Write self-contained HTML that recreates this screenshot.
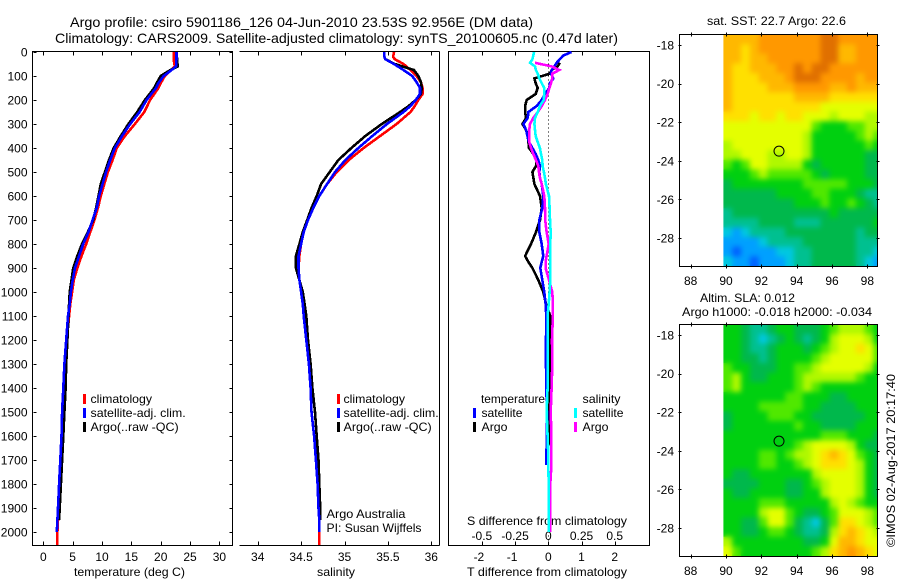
<!DOCTYPE html>
<html lang="en">
<head>
<meta charset="utf-8">
<title>Argo profile chart</title>
<style>
html,body{margin:0;padding:0;background:#fff;}
#chart{display:block;width:900px;height:580px;}
text{font-family:"Liberation Sans",Arial,sans-serif;font-size:12px;fill:#000;}
.title{font-size:14px;}
</style>
</head>
<body>
<svg id="chart" xmlns="http://www.w3.org/2000/svg" width="900" height="580" viewBox="0 0 900 580">
  <defs>
    <filter id="soften" x="-5%" y="-5%" width="110%" height="110%" color-interpolation-filters="sRGB">
      <feGaussianBlur stdDeviation="2.6"/>
    </filter>
    <clipPath id="clip-map-a"><rect x="680" y="35" width="197" height="231"/></clipPath>
    <clipPath id="clip-map-b"><rect x="680" y="325" width="197" height="231"/></clipPath>
  </defs>
  <rect x="0" y="0" width="900" height="580" fill="#fff"/>
  <text class="title" x="70" y="27" textLength="463" lengthAdjust="spacingAndGlyphs">Argo profile: csiro 5901186_126 04-Jun-2010 23.53S 92.956E (DM data)</text>
  <text class="title" x="55" y="43" textLength="563" lengthAdjust="spacingAndGlyphs">Climatology: CARS2009. Satellite-adjusted climatology: synTS_20100605.nc (0.47d later)</text>
  <text x="74" y="576" textLength="111" lengthAdjust="spacingAndGlyphs">temperature (deg C)</text>
  <text x="317" y="576" textLength="38" lengthAdjust="spacingAndGlyphs">salinity</text>
  <text x="467" y="525" textLength="160" lengthAdjust="spacingAndGlyphs">S difference from climatology</text>
  <text x="467" y="576" textLength="160" lengthAdjust="spacingAndGlyphs">T difference from climatology</text>
  <text x="326.5" y="518" textLength="79" lengthAdjust="spacingAndGlyphs">Argo Australia</text>
  <text x="326.5" y="532" textLength="95" lengthAdjust="spacingAndGlyphs">PI: Susan Wijffels</text>
  <text x="707" y="25" textLength="139" lengthAdjust="spacingAndGlyphs">sat. SST: 22.7 Argo: 22.6</text>
  <text x="700" y="302" textLength="95" lengthAdjust="spacingAndGlyphs">Altim. SLA: 0.012</text>
  <text x="682" y="316" textLength="190" lengthAdjust="spacingAndGlyphs">Argo h1000: -0.018 h2000: -0.034</text>
  <text transform="translate(895,547) rotate(-90)" textLength="173" lengthAdjust="spacingAndGlyphs">©IMOS 02-Aug-2017 20:17:40</text>
  <g id="layer"></g>
</svg>
<script>
// ---- profile data ----
const depthTicks = [0,100,200,300,400,500,600,700,800,900,1000,1100,1200,1300,1400,1500,1600,1700,1800,1900,2000];
const tempTicks = [0,5,10,15,20,25,30];
const salTicks = [34,34.5,35,35.5,36];
const salTickLabels = ['34','34.5','35','35.5','36'];
const diffTTicks = [-2,-1,0,1,2];
const diffSTicks = [-0.5,-0.25,0,0.25,0.5];
const diffSTickLabels = ['-0.5','-0.25','0','0.25','0.5'];
const lonTicks = [88,90,92,94,96,98];
const latTicks = [-18,-20,-22,-24,-26,-28];

const tempDepths = [0,30,60,80,100,130,150,200,250,300,350,400,450,500,550,600,650,700,750,800,850,900,950,1000,1050,1100,1200,1300,1400,1500,1600,1700,1800,1900,1950,2000,2054];
const tempClim = [22.2,22.2,22.4,21.5,20.7,20,19.6,18.2,17.2,15.6,13.9,12.5,11.8,11,10.4,9.8,9.3,8.7,8,7.3,6.5,5.8,5.2,4.9,4.6,4.4,4,3.7,3.5,3.3,3.1,3,2.8,2.6,2.5,2.4,2.4];
const tempSat = [22.7,22.7,22.6,21.6,20.5,19.6,19.2,17.6,16.4,14.8,13.4,12.2,11.4,10.7,10.1,9.5,9.1,8.4,7.7,6.8,6.1,5.4,5,4.7,4.5,4.2,3.9,3.6,3.4,3.2,3.1,2.9,2.7,2.5,2.4,2.3,null];
const tempArgo = [22.7,22.8,22.9,21.3,20,19.3,18.9,17.3,16,14.5,13.2,12,11.2,10.5,9.8,9.4,9,8.5,7.6,6.6,5.8,5.1,4.8,4.5,4.4,4.3,4.1,3.9,3.8,3.6,3.4,3.2,3,2.8,2.7,null,null];

const salDepths = [0,20,30,50,75,100,125,150,175,200,225,250,300,350,400,450,500,550,600,650,700,750,800,850,900,950,1000,1050,1100,1200,1300,1400,1500,1600,1700,1800,1900,1950,2000,2054];
const salClim = [35.57,35.56,35.58,35.68,35.76,35.83,35.88,35.9,35.9,35.85,35.81,35.76,35.6,35.41,35.22,35.05,34.91,34.8,34.71,34.64,34.58,34.53,34.5,34.48,34.47,34.48,34.5,34.52,34.53,34.56,34.59,34.61,34.62,34.65,34.67,34.69,34.7,34.71,34.71,34.71];
const salSat = [35.46,35.46,35.47,35.57,35.68,35.78,35.83,35.87,35.87,35.82,35.76,35.68,35.49,35.32,35.16,35.01,34.89,34.8,34.71,34.64,34.58,34.53,34.5,34.47,34.47,34.48,34.5,34.52,34.53,34.56,34.59,34.61,34.62,34.65,34.67,34.69,34.7,34.71,34.71,null];
const salArgo = [null,null,35.47,35.58,35.8,35.85,35.88,35.89,35.88,35.82,35.74,35.64,35.43,35.24,35.08,34.93,34.83,34.73,34.68,34.62,34.57,34.52,34.48,34.44,34.44,34.48,34.52,34.54,34.56,34.58,34.61,34.63,34.66,34.68,34.7,34.71,34.72,34.72,null,null];

const diffDepths = [0,15,30,45,60,75,90,110,130,150,175,200,225,250,275,300,325,350,375,400,425,450,475,500,525,550,600,650,700,750,800,850,875,900,950,1000,1050,1100,1200,1300,1400,1500,1600,1640,1720,1800,1900,2000];
const diffTSat = [.7,.45,.35,.25,.18,.1,.08,.15,.05,.03,-.1,-.2,-.35,-.6,-.62,-.75,-.67,-.63,-.58,-.48,-.38,-.3,-.25,-.27,-.25,-.2,-.15,-.18,-.27,-.27,-.2,-.15,-.2,-.24,-.18,-.12,-.08,-.06,-.07,-.07,-.06,-.04,-.04,-.05,-.06,null,null,null];
const diffTArgo = [null,null,null,.35,.28,.1,.05,-.42,-.38,-.32,-.38,-.65,-.7,-.7,-.67,-.78,-.67,-.62,-.6,-.58,-.45,-.35,-.37,-.48,-.45,-.42,-.25,-.2,-.25,-.37,-.52,-.7,-.6,-.48,-.3,-.15,-.07,.06,.05,.05,.05,.03,.03,.03,null,null,null,null];
const diffSSat = [-.108,-.113,-.12,-.138,-.1,-.093,-.08,-.068,-.05,-.03,-.03,-.035,-.063,-.08,-.1,-.105,-.1,-.095,-.08,-.063,-.055,-.045,-.043,-.033,-.025,-.018,.005,.01,.013,.018,.015,.015,.015,.015,.015,.01,.003,-.005,-.003,-.003,-.005,-.013,-.005,-.002,0,.003,.003,.003];
const diffSArgo = [null,null,null,-.1,.025,.083,.03,.03,.02,.008,-.005,-.025,-.05,-.08,-.113,-.138,-.143,-.143,-.143,-.13,-.113,-.093,-.075,-.07,-.063,-.05,-.03,-.025,-.023,-.013,.003,-.013,-.02,-.02,.005,.03,.035,.035,.028,.03,.025,.018,.023,.023,.023,.015,.015,.015];

// ---- map data: colour-scale level per 0.5 degree cell, rows north to south ----
const sstGrid = [
[10,10,10,10,11,11,11,11,11,11,11,12,12,11,11,11,11,11],
[10,10,9,10,11,11,11,11,11,11,11,12,12,10,10,11,11,11],
[10,10,9,10,10,11,11,11,11,11,11,12,12,10,10,11,11,11],
[10,9,9,10,10,10,11,11,12,11,12,12,11,11,11,11,11,11],
[10,9,9,9,10,10,10,11,12,12,12,11,11,11,11,10,11,11],
[10,9,9,9,9,10,10,10,11,11,11,11,10,10,11,10,10,10],
[10,9,9,9,9,9,9,9,10,10,10,10,9,9,9,9,9,9],
[10,9,9,9,9,9,9,9,9,9,9,8,8,8,8,8,8,8],
[9,9,9,8,9,9,8,9,9,8,8,8,7,8,8,8,7,7],
[8,8,8,8,8,8,8,8,8,8,6,5,5,5,6,6,7,7],
[8,8,8,8,8,8,8,8,8,7,5,5,5,5,5,6,7,6],
[7,8,8,8,8,8,8,8,8,7,5,5,5,5,5,5,6,5],
[7,7,8,8,8,7,7,8,8,7,5,5,5,5,5,5,4,4],
[6,5,6,8,8,7,7,7,7,5,4,5,5,5,5,5,4,4],
[5,5,5,6,7,6,6,6,6,6,5,4,5,5,5,5,4,4],
[4,5,5,5,5,5,5,5,5,6,6,6,6,6,5,5,5,4],
[4,4,4,4,4,4,5,5,5,5,6,6,5,5,5,4,3,3],
[4,4,4,4,4,4,4,4,5,5,5,6,5,5,6,5,4,3],
[3,4,4,4,4,4,4,4,4,4,4,4,5,4,4,4,4,4],
[3,3,3,3,4,4,4,4,3,3,3,4,4,4,4,4,4,5],
[2,1,2,3,3,3,3,4,4,4,4,4,4,4,4,3,4,4],
[1,1,1,1,2,3,3,3,3,4,4,4,4,4,4,3,3,3],
[1,0,1,1,1,1,2,2,3,3,4,4,4,4,4,3,3,2],
[2,1,1,0,1,1,1,2,3,3,4,4,4,4,4,3,2,1]
];
const slaGrid = [
[5,5,4,3,3,4,5,5,4,4,4,5,6,7,7,7,6,5],
[5,5,4,3,2,3,4,5,4,3,4,5,7,8,8,8,7,5],
[5,5,4,3,3,4,5,5,5,4,5,6,7,8,8,9,8,6],
[5,5,4,4,3,4,5,5,5,5,6,7,8,8,8,8,8,6],
[6,5,5,4,4,4,5,5,6,6,7,8,8,8,8,8,7,5],
[6,7,5,4,4,5,5,5,6,7,7,7,7,7,7,6,5,5],
[6,7,5,5,5,5,5,5,6,7,6,5,5,5,5,5,5,5],
[5,5,5,5,5,5,5,6,6,5,5,5,4,4,5,5,5,5],
[5,5,5,5,6,6,6,6,6,5,5,4,4,4,4,5,5,5],
[4,5,5,5,5,6,6,6,5,5,4,4,4,4,4,4,5,5],
[4,5,5,5,5,5,5,5,6,5,5,4,4,4,4,5,5,5],
[5,5,5,5,5,5,5,5,5,5,5,6,6,6,5,5,5,4],
[5,5,5,5,5,5,5,5,6,7,8,8,8,8,7,5,4,4],
[5,5,5,5,6,6,5,6,7,7,8,9,10,9,8,6,5,4],
[5,5,5,5,6,6,5,5,6,7,8,9,9,9,8,7,5,4],
[5,4,4,5,5,5,5,5,5,5,7,8,8,8,8,7,5,4],
[4,4,4,4,5,5,5,4,4,5,6,7,8,8,8,7,5,4],
[5,4,4,5,5,5,5,4,4,5,5,7,8,8,8,7,5,4],
[5,5,5,5,6,6,6,5,5,5,5,5,7,8,7,6,5,5],
[5,5,5,5,7,8,8,6,5,4,4,5,6,8,8,8,7,6],
[5,5,4,4,6,8,8,6,4,3,2,4,6,9,9,8,7,6],
[5,5,4,4,5,6,6,5,4,3,3,4,7,9,10,9,8,7],
[7,5,5,5,5,5,5,5,5,4,4,5,8,10,10,9,8,8],
[8,6,5,5,5,5,5,5,5,5,6,7,9,10,11,10,9,8]
];
const colorLevels = ['#0060ff','#00a0ff','#00c8e0','#00c090','#00b84c','#00d010','#50e800','#b0f800','#e4ff00','#ffe000','#ffb800','#ff9800','#e07000'];
const floatLon = [93];
const floatLat = [-23.5];

// ---- axis functions ----
const NS = 'http://www.w3.org/2000/svg';
const layer = document.getElementById('layer');
const yDepth = d => 52 + 0.24 * d;
const xTemp = t => 43.3 + 5.87 * t;
const xSal = s => 257.7 + 86.8 * (s - 34);
const xDiffT = t => 548.3 + 33.2 * t;
const xDiffS = s => 548.3 + 132.8 * s;
const xLon = l => 726 + 17.67 * (l - 90);
const yLat = (l, off) => 45 + off + 19.3 * (-18 - l);

function make(tag, parent) {
  const el = document.createElementNS(NS, tag);
  parent.appendChild(el);
  return el;
}
function seg(x1, y1, x2, y2, parent) {
  const el = make('line', parent);
  el.setAttribute('x1', Math.round(x1) + 0.5);
  el.setAttribute('y1', Math.round(y1) + 0.5);
  el.setAttribute('x2', Math.round(x2) + 0.5);
  el.setAttribute('y2', Math.round(y2) + 0.5);
  el.setAttribute('stroke', '#000');
  el.setAttribute('stroke-width', '1');
  el.setAttribute('shape-rendering', 'crispEdges');
  return el;
}
function label(str, x, y, anchor, parent) {
  const el = make('text', parent);
  el.setAttribute('x', x);
  el.setAttribute('y', y);
  el.setAttribute('text-anchor', anchor);
  el.textContent = str;
  return el;
}
function fit(el, width) {
  el.setAttribute('textLength', width);
  el.setAttribute('lengthAdjust', 'spacingAndGlyphs');
}
function profile(depths, values, xf, color, width, parent) {
  // One polyline per continuous run of non-null values
  let run = [];
  const runs = [];
  depths.forEach((d, i) => {
    if (values[i] === null) { if (run.length) runs.push(run); run = []; }
    else run.push(xf(values[i]).toFixed(1) + ',' + yDepth(d).toFixed(1));
  });
  if (run.length) runs.push(run);
  return runs.map(r => {
    const el = make('polyline', parent);
    el.setAttribute('points', r.join(' '));
    el.setAttribute('fill', 'none');
    el.setAttribute('stroke', color);
    el.setAttribute('stroke-width', width);
    el.setAttribute('stroke-linejoin', 'miter');
    el.setAttribute('shape-rendering', 'crispEdges');
    return el;
  });
}
function group(parent) { return make('g', parent); }
function bar(x, y, color, parent) {
  const el = make('rect', parent);
  el.setAttribute('x', x);
  el.setAttribute('y', y);
  el.setAttribute('width', 3);
  el.setAttribute('height', 10);
  el.setAttribute('fill', color);
  return el;
}

const FRAME_TOP = 51, FRAME_BOTTOM = 545, LINE_W = 2.6;

// ---- temperature panel ----
const tempPanel = group(layer);


const tempFrame = make('rect', tempPanel);
tempFrame.setAttribute('x', 32.5);
tempFrame.setAttribute('y', FRAME_TOP + 0.5);
tempFrame.setAttribute('width', 200);
tempFrame.setAttribute('height', FRAME_BOTTOM - FRAME_TOP);
tempFrame.setAttribute('fill', 'none');
tempFrame.setAttribute('stroke', '#000');
tempFrame.setAttribute('shape-rendering', 'crispEdges');


depthTicks.forEach(d => {
  const y = yDepth(d);
  const tl = seg(33, y, 36, y, tempPanel);
  
  
  const tr = seg(229, y, 232, y, tempPanel);
  
  
  const lb = label(String(d), 27.5, y + 4.5, 'end', tempPanel);
  
  
});
tempTicks.forEach(t => {
  const x = xTemp(t);
  const a = seg(x, FRAME_TOP, x, FRAME_TOP + 4, tempPanel);
  
  
  const b = seg(x, FRAME_BOTTOM - 4, x, FRAME_BOTTOM, tempPanel);
  
  
  const lb = label(String(t), x, 561, 'middle', tempPanel);
  
  
});
profile(tempDepths, tempClim, xTemp, '#ff0000', LINE_W, tempPanel).forEach(el => {
  
  
});
profile(tempDepths, tempArgo, xTemp, '#000000', LINE_W, tempPanel).forEach(el => {
  
  
});
profile(tempDepths, tempSat, xTemp, '#0000ff', LINE_W, tempPanel).forEach(el => {
  
  
});

// ---- salinity panel ----
const salPanel = group(layer);


const salTop = seg(239, FRAME_TOP, 439, FRAME_TOP, salPanel);


const salBottom = seg(239, FRAME_BOTTOM, 439, FRAME_BOTTOM, salPanel);


const salRight = seg(439, FRAME_TOP, 439, FRAME_BOTTOM, salPanel);


salTicks.forEach((s, i) => {
  const x = xSal(s);
  const a = seg(x, FRAME_TOP, x, FRAME_TOP + 4, salPanel);
  
  
  const b = seg(x, FRAME_BOTTOM - 4, x, FRAME_BOTTOM, salPanel);
  
  
  const lb = label(salTickLabels[i], x, 561, 'middle', salPanel);
  
  
});
profile(salDepths, salClim, xSal, '#ff0000', LINE_W, salPanel).forEach(el => {
  
  
});
profile(salDepths, salArgo, xSal, '#000000', LINE_W, salPanel).forEach(el => {
  
  
});
profile(salDepths, salSat, xSal, '#0000ff', LINE_W, salPanel).forEach(el => {
  
  
});

// ---- difference panel ----
const diffPanel = group(layer);


const diffFrame = make('rect', diffPanel);
diffFrame.setAttribute('x', 448.5);
diffFrame.setAttribute('y', FRAME_TOP + 0.5);
diffFrame.setAttribute('width', 201);
diffFrame.setAttribute('height', FRAME_BOTTOM - FRAME_TOP);
diffFrame.setAttribute('fill', 'none');
diffFrame.setAttribute('stroke', '#000');
diffFrame.setAttribute('shape-rendering', 'crispEdges');


diffTTicks.forEach(t => {
  const x = xDiffT(t);
  const a = seg(x, FRAME_TOP, x, FRAME_TOP + 4, diffPanel);
  
  
  const b = seg(x, FRAME_BOTTOM - 4, x, FRAME_BOTTOM, diffPanel);
  
  
  const lb = label(String(t), x - (t < 0 ? 3 : 0), 561, 'middle', diffPanel);
  
  
});
diffSTicks.forEach((s, i) => {
  const lb = label(diffSTickLabels[i], xDiffS(s), 540, 'middle', diffPanel);
  
  
});
const zeroLine = seg(xDiffT(0), FRAME_TOP, xDiffT(0), FRAME_BOTTOM, diffPanel);
zeroLine.setAttribute('stroke-dasharray', '1 3');


profile(diffDepths, diffTArgo, xDiffT, '#000000', LINE_W, diffPanel).forEach(el => {
  
  
});
profile(diffDepths, diffTSat, xDiffT, '#0000ff', LINE_W, diffPanel).forEach(el => {
  
  
});
profile(diffDepths, diffSArgo, xDiffS, '#ff00ff', LINE_W, diffPanel).forEach(el => {
  
  
});
profile(diffDepths, diffSSat, xDiffS, '#00ffff', LINE_W, diffPanel).forEach(el => {
  
  
});

// ---- legends ----
const legendRows = [394, 408, 422];
const legendA = group(layer);


const legendB = group(layer);


const legendC = group(layer);


const profileNames = ['climatology', 'satellite-adj. clim.', 'Argo(..raw -QC)'];
const profileColors = ['#ff0000', '#0000ff', '#000000'];
const profileNameFit = { 'climatology': 61.5, 'satellite-adj. clim.': 95.2, 'Argo(..raw -QC)': 88.2 };
profileNames.forEach((n, i) => {
  const b1 = bar(83, legendRows[i], profileColors[i], legendA);
  
  
  const t1 = label(n, 90.5, legendRows[i] + 9, 'start', legendA);
  fit(t1, profileNameFit[n]);
  
  
  const b2 = bar(337, legendRows[i], profileColors[i], legendB);
  
  
  const t2 = label(n, 343.5, legendRows[i] + 9, 'start', legendB);
  fit(t2, profileNameFit[n]);
  
  
});
const hdrT = label('temperature', 481, 403, 'start', legendC);
fit(hdrT, 64);


const hdrS = label('salinity', 582.5, 403, 'start', legendC);
fit(hdrS, 38);


const diffLegendNames = ['satellite', 'Argo'];
const diffLegendT = ['#0000ff', '#000000'];
const diffLegendS = ['#00ffff', '#ff00ff'];
const diffNameFit = { 'satellite': 41, 'Argo': 26 };
diffLegendNames.forEach((n, i) => {
  const y = legendRows[i + 1];
  const b1 = bar(473, y, diffLegendT[i], legendC);
  
  
  const t1 = label(n, 481.5, y + 9, 'start', legendC);
  fit(t1, diffNameFit[n]);
  
  
  const b2 = bar(574, y, diffLegendS[i], legendC);
  
  
  const t2 = label(n, 582.5, y + 9, 'start', legendC);
  fit(t2, diffNameFit[n]);
  
  
});

// ---- maps ----
function paintCells(grid, off, parent) {
  grid.forEach((row, r) => {
    row.forEach((v, c) => {
      const lonW = 89.85 + 0.5 * c;
      const lonE = lonW + 0.5;
      const latN = -17.45 - 0.5 * r;
      const cell = make('rect', parent);
      cell.setAttribute('x', xLon(lonW).toFixed(2));
      cell.setAttribute('y', yLat(latN, off).toFixed(2));
      cell.setAttribute('width', (xLon(lonE) - xLon(lonW) + 0.4).toFixed(2));
      cell.setAttribute('height', (19.3 * 0.5 + 0.4).toFixed(2));
      cell.setAttribute('fill', colorLevels[v]);
      
      
    });
  });
}
function drawMap(grid, off, clipId, parent) {
  const clipped = group(parent);
  clipped.setAttribute('clip-path', 'url(#' + clipId + ')');
  
  
  // A sharp base keeps the edges opaque under the softened copy
  const base = group(clipped);
  
  
  paintCells(grid, off, base);
  const soft = group(clipped);
  soft.setAttribute('filter', 'url(#soften)');
  
  
  paintCells(grid, off, soft);
  const whiteout = make('rect', clipped);
  whiteout.setAttribute('x', 670);
  whiteout.setAttribute('y', 30 + off);
  whiteout.setAttribute('width', xLon(89.85) - 670);
  whiteout.setAttribute('height', 240);
  whiteout.setAttribute('fill', '#fff');
  
  
  const frame = make('rect', parent);
  frame.setAttribute('x', 679.5);
  frame.setAttribute('y', 34.5 + off);
  frame.setAttribute('width', 198);
  frame.setAttribute('height', 232);
  frame.setAttribute('fill', 'none');
  frame.setAttribute('stroke', '#000');
  frame.setAttribute('shape-rendering', 'crispEdges');
  
  
  lonTicks.forEach(l => {
    const x = xLon(l);
    const a = seg(x, 32 + off, x, 36 + off, parent);
    
    
    const b = seg(x, 264 + off, x, 268 + off, parent);
    
    
    const lb = label(String(l), x, 285 + off, 'middle', parent);
    
    
  });
  latTicks.forEach(l => {
    const y = yLat(l, off);
    const a = seg(678, y, 681, y, parent);
    
    
    const b = seg(876, y, 879, y, parent);
    
    
    const lb = label(String(l), 674, y + 4.5, 'end', parent);
    
    
  });
  floatLon.forEach((lon, i) => {
    const mark = make('circle', parent);
    mark.setAttribute('cx', xLon(lon));
    mark.setAttribute('cy', yLat(floatLat[i], off));
    mark.setAttribute('r', 5);
    mark.setAttribute('fill', 'none');
    mark.setAttribute('stroke', '#000');
    
    
  });
}
const sstMap = group(layer);


drawMap(sstGrid, 0, 'clip-map-a', sstMap);
const slaMap = group(layer);


drawMap(slaGrid, 290, 'clip-map-b', slaMap);
</script>
</body>
</html>
